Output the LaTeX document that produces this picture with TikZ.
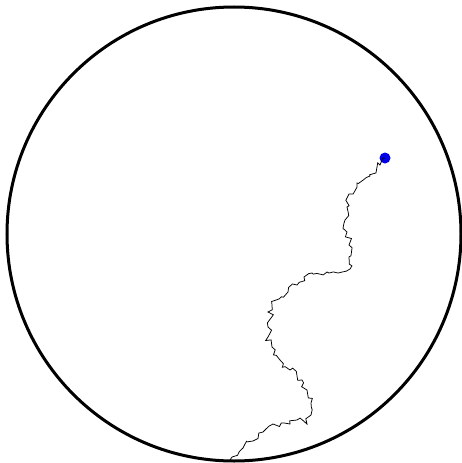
\documentclass[tikz,border=0pt]{standalone}
\usetikzlibrary{decorations.pathmorphing}
\definecolor{dotblue}{RGB}{0,0,235}
\tikzset{
  rim/.style={line width=3pt, draw=black},
  walk/.style={line width=0.75pt, draw=black, line join=miter,
    decorate, decoration={random steps, segment length=4pt, amplitude=3.6pt}},
  walker/.style={circle, fill=dotblue, inner sep=0pt, minimum size=11pt}
}
\begin{document}
\begin{tikzpicture}[x=1pt,y=-1pt]
\pgfmathsetseed{7}
\useasboundingbox (0,0) rectangle (462,463);
\node[circle, inner sep=0pt, minimum size=454pt, rim] (rimc) at (234,234) {};
\coordinate (start) at (230,460);
\node[walker] (dot) at (385,158) {};
\draw[walk] (start) -- (243,448) -- (253,441) -- (263,432) -- (273,424) -- (290,424) -- (297,420) -- (307,424)
 -- (311,415) -- (311,403) -- (307,390) -- (302,380) -- (290,370) -- (280,360) -- (272,347)
 -- (268,337) -- (268,327) -- (271,318) -- (268,312) -- (272,305) -- (279,299) -- (288,292)
 -- (297,285) -- (304,277) -- (312,273) -- (327,272) -- (338,273) -- (350,269) -- (349,257)
 -- (349,245) -- (347,232) -- (345,220) -- (347,207) -- (349,194) -- (357,183) -- (370,176)
 -- (380,165) -- (dot.center);
\end{tikzpicture}
\end{document}
